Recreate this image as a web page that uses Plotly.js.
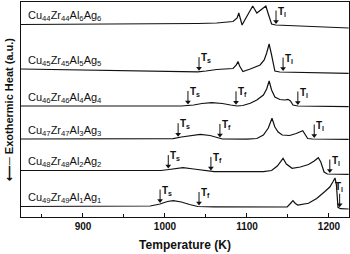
<!DOCTYPE html>
<html><head><meta charset="utf-8">
<script src="https://cdn.plot.ly/plotly-3.0.1.min.js"></script>
<style>html,body{margin:0;padding:0;background:#fff}#chart{width:350px;height:254px}</style>
</head><body><div id="chart"></div>
<script>
// Alloy names (top to bottom)
const alloys = [
  'Cu<sub>44</sub>Zr<sub>44</sub>Al<sub>6</sub>Ag<sub>6</sub>',
  'Cu<sub>45</sub>Zr<sub>45</sub>Al<sub>5</sub>Ag<sub>5</sub>',
  'Cu<sub>46</sub>Zr<sub>46</sub>Al<sub>4</sub>Ag<sub>4</sub>',
  'Cu<sub>47</sub>Zr<sub>47</sub>Al<sub>3</sub>Ag<sub>3</sub>',
  'Cu<sub>48</sub>Zr<sub>48</sub>Al<sub>2</sub>Ag<sub>2</sub>',
  'Cu<sub>49</sub>Zr<sub>49</sub>Al<sub>1</sub>Ag<sub>1</sub>'
];
// Vertical offsets of each DSC trace (a.u.)
const offsets = [192.5, 148, 111, 78, 46.5, 10.5];

// DSC traces: temperature (K) and exothermic heat (a.u., relative to own baseline)
const temp44 = [824,900,980,1040,1063,1075,1083,1088,1090,1092,1094,1098,1103,1107,1112,1118,1123,1126,1130,1135,1152,1180,1224];
const heat44 = [0,0.2,0.5,1,1.5,2,3,6.5,11.5,5.5,-0.5,5.5,13.5,18.5,11.5,15,18.5,10.5,0.5,-0.5,-1,-2,-3.5];

const temp45 = [824,900,980,1040,1050,1063,1083,1087,1089,1091,1095,1100,1104,1116,1121,1124,1127,1130,1134,1140,1180,1224];
const heat45 = [0,-1,-2,-2.8,-2,-0.5,0.5,4,7.5,3,-2.5,-1.5,0,4,9,16,25,14,-2,-3,-3.5,-4.3];

const temp46 = [824,1020,1035,1045,1057,1070,1080,1088,1095,1104,1112,1120,1124,1127,1130,1134,1140,1146,1150,1153,1156,1162,1224];
const heat46 = [0,0,1,2.5,3.3,2.5,1,0,0.5,2.7,6,11,17,25,16,9,6.5,6,6.7,5,1,0,-0.7];

const temp47 = [824,1010,1020,1030,1043,1055,1065,1070,1100,1112,1120,1126,1130.5,1134,1138,1143,1152,1160,1168,1171,1174,1180,1224];
const heat47 = [0,0.3,2,3.5,4.7,3.5,1,0,-0.2,0.5,4,11,20.7,12,7,4,3.5,5.5,8.3,5,0.5,0,-0.3];

const temp48 = [824,980,995,1005,1015,1022,1035,1050,1060,1120,1130,1137,1144,1148,1155,1165,1175,1182,1187,1190,1194,1198,1224];
const heat48 = [0,-0.2,0,1,2.5,2.8,1.5,-0.5,-1.2,-1.2,0,4.5,12.2,6.5,2.2,3.5,6,9.5,12.8,8.5,-1.5,-3.5,-3.8];

const temp49 = [824,900,970,982,994,1003,1010,1020,1030,1040,1060,1100,1140,1149,1153,1156,1159,1162,1175,1185,1195,1201,1205,1207.3,1209,1211,1214,1224];
const heat49 = [0,0,0,0.5,2.5,5,5.8,4.5,2,0,-0.3,-0.5,-0.7,-0.5,3,5.8,3,1.5,3.2,8,15,19.5,25,28.5,22,-0.8,-2.2,-2.5];

// Characteristic temperatures (K): start/finish of first event and liquidus
const tS = [null, 1041.5, 1028, 1016, 1004, 994];
const tF = [null, null, 1086.6, 1067, 1056, 1041.5];
const tL = [1135.4, 1144, 1162, 1182, 1201, 1213];

const temps = [temp44, temp45, temp46, temp47, temp48, temp49];
const heats = [heat44, heat45, heat46, heat47, heat48, heat49];

const FONT = 'Liberation Sans, Arial, sans-serif';
const INK = '#111';

function valueAt(t, xs, ys) {
  for (let i = 0; i < xs.length - 1; i++) {
    if (t >= xs[i] && t <= xs[i + 1]) {
      const f = (t - xs[i]) / (xs[i + 1] - xs[i]);
      return ys[i] + f * (ys[i + 1] - ys[i]);
    }
  }
  return ys[ys.length - 1];
}

const traces = temps.map((xs, k) => ({
  x: xs,
  y: heats[k].map(v => v + offsets[k]),
  type: 'scatter', mode: 'lines',
  line: {color: INK, width: 1.2},
  hoverinfo: 'skip', showlegend: false
}));

const annotations = [];
alloys.forEach((name, k) => {
  annotations.push({
    x: 831, y: offsets[k] + 8.5, xref: 'x', yref: 'y',
    text: name, showarrow: false, xanchor: 'left', yanchor: 'middle',
    font: {family: FONT, size: 11, color: INK}
  });
});

// arrows for characteristic temperatures
const stemX = [], stemY = [], headX = [], headY = [];
const ARROW = 13;
function mark(t, k, sub) {
  if (t == null) return;
  const tip = valueAt(t, temps[k], heats[k]) + offsets[k] + 1.5;
  stemX.push(t, t, null);
  stemY.push(tip + 2, tip + ARROW, null);
  headX.push(t);
  headY.push(tip + 2);
  const above = t > 1205;
  annotations.push({
    x: t, y: tip + ARROW, xref: 'x', yref: 'y', text: 'T<sub>' + sub + '</sub>',
    showarrow: false,
    xanchor: above ? 'center' : 'left',
    yanchor: above ? 'bottom' : 'top',
    xshift: above ? -1 : 0, yshift: above ? -1 : 7,
    font: {family: FONT, size: 10, color: INK, weight: 'bold'}
  });
}
for (let k = 0; k < 6; k++) {
  mark(tS[k], k, 's');
  mark(tF[k], k, 'f');
  mark(tL[k], k, 'l');
}
traces.push({
  x: stemX, y: stemY, type: 'scatter', mode: 'lines',
  line: {color: INK, width: 1}, hoverinfo: 'skip', showlegend: false
});
traces.push({
  x: headX, y: headY, type: 'scatter', mode: 'markers',
  marker: {symbol: 'triangle-down', size: 5, color: INK, line: {width: 0}},
  hoverinfo: 'skip', showlegend: false
});

const layout = {
  width: 350, height: 254,
  margin: {l: 21, r: 1, t: 2, b: 37},
  paper_bgcolor: '#fff', plot_bgcolor: '#fff',
  font: {family: FONT, color: INK},
  xaxis: {
    range: [824.4, 1224.4], showgrid: false, zeroline: false,
    showline: true, linecolor: INK, linewidth: 1, mirror: true,
    ticks: 'inside', ticklen: 4, tickwidth: 1, tickcolor: INK,
    tick0: 900, dtick: 100,
    minor: {ticks: 'inside', ticklen: 3, dtick: 50, tick0: 850, tickcolor: INK},
    tickfont: {family: FONT, size: 10, weight: 'bold', color: INK},
    title: {text: 'Temperature (K)', font: {family: FONT, size: 12, weight: 'bold', color: INK}, standoff: 9}
  },
  yaxis: {
    range: [0, 215], showgrid: false, zeroline: false,
    showline: true, linecolor: INK, linewidth: 1, mirror: true,
    ticks: '', showticklabels: false,
    title: {text: '⟵─ Exothermic Heat (a.u.)', font: {family: FONT, size: 11, weight: 'bold', color: INK}, standoff: 4}
  },
  annotations: annotations
};

Plotly.newPlot('chart', traces, layout, {displayModeBar: false, staticPlot: true});
</script>
</body></html>
